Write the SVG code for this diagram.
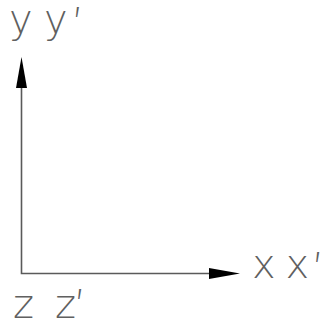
<svg xmlns="http://www.w3.org/2000/svg" width="321" height="323" viewBox="0 0 321 323">
  <style>
    .lbl { font-family: "DejaVu Sans", Inter, "Liberation Sans", sans-serif; font-weight: 200; font-size: 40px; fill: #606060; }
    .axis { fill: none; stroke: #5a5a5a; stroke-width: 1.6; }
  </style>
  <defs>
    <marker id="head" markerUnits="userSpaceOnUse" markerWidth="31" markerHeight="11" refX="0" refY="5.5" orient="auto-start-reverse" viewBox="0 0 31 11">
      <path d="M0,0 L31,5.5 L0,11 Z" fill="#000"/>
    </marker>
  </defs>
  <rect width="321" height="323" fill="#fff"/>
  <g id="connectors">
    <path class="axis" d="M21.5,88 L21.5,273.5 L209,273.5" marker-start="url(#head)" marker-end="url(#head)"/>
  </g>
  <g id="label-y">
    <text class="lbl" x="9" y="33" word-spacing="-1.4">y y<tspan dx="6" dy="3">′</tspan></text>
  </g>
  <g id="label-x">
    <text class="lbl" x="252" y="278" word-spacing="-3">x x<tspan dx="5" dy="3">′</tspan></text>
  </g>
  <g id="label-z">
    <text class="lbl" x="13" y="318" word-spacing="8.3">z z′</text>
  </g>
</svg>
